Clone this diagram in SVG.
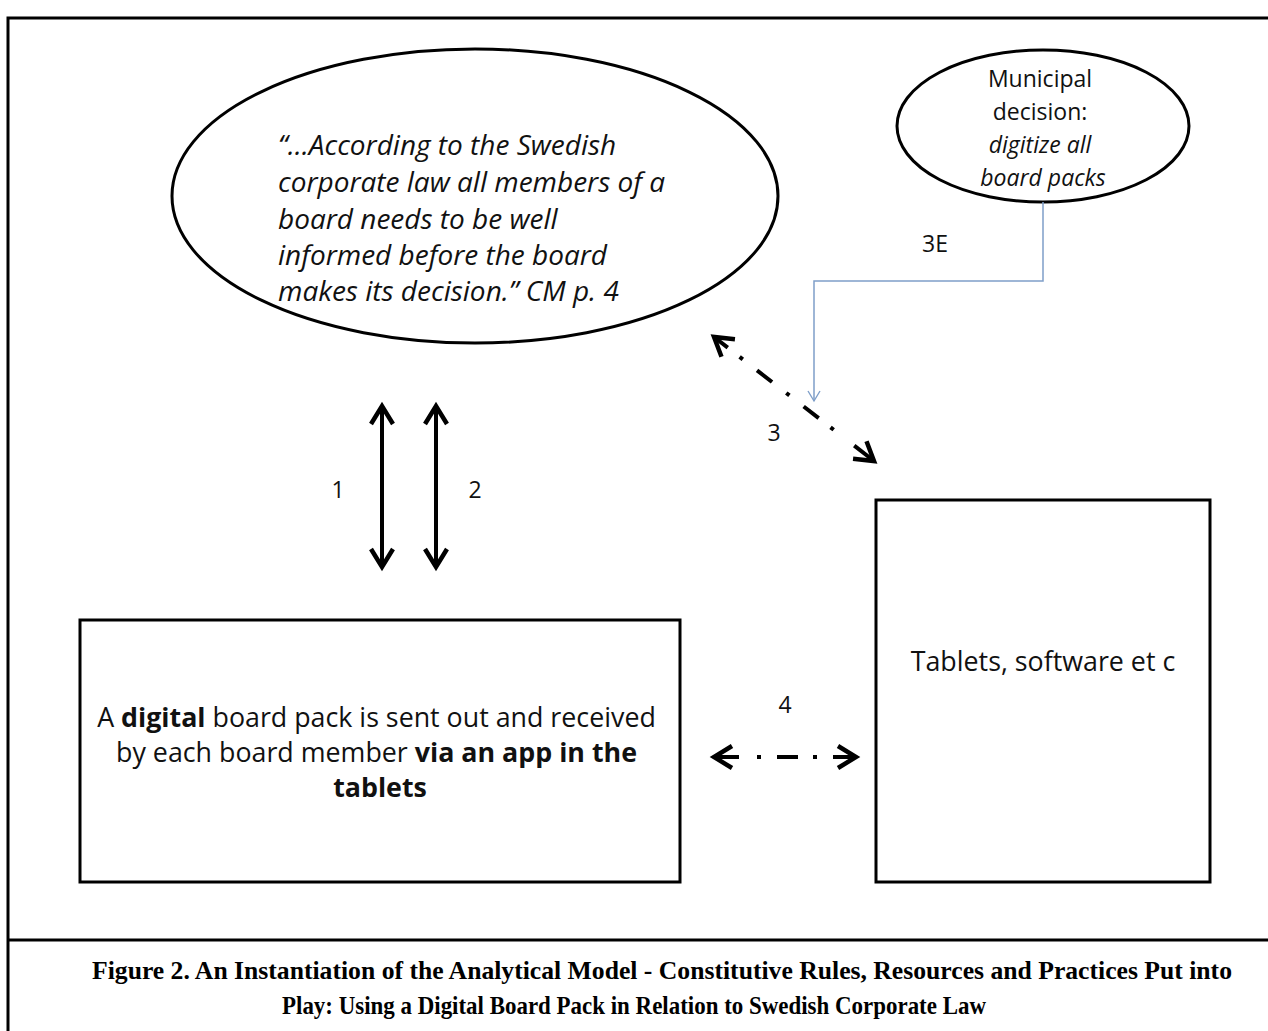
<svg xmlns="http://www.w3.org/2000/svg" width="1268" height="1031" viewBox="0 0 1268 1031">
<style>
.frame{fill:none;stroke:#000;stroke-width:3}
.node{fill:#fff;stroke:#000;stroke-width:3}
.t{font-family:"Open Sans","Noto Sans","Liberation Sans",sans-serif;fill:#111}
.it{font-style:italic}
.b{font-weight:bold}
.arr{fill:none;stroke:#000;stroke-width:4}
.cap{font-family:"Liberation Serif","Times New Roman",serif;font-weight:bold;font-size:25px;fill:#000}
</style>
<defs>
<marker id="ah" viewBox="0 0 28 28" refX="23" refY="14" markerWidth="28" markerHeight="28" orient="auto-start-reverse" markerUnits="userSpaceOnUse">
<path d="M5,3 L23,14 L5,25" fill="none" stroke="#000" stroke-width="4.5"/>
</marker>
<marker id="bh" viewBox="0 0 14 14" refX="12" refY="7" markerWidth="14" markerHeight="14" orient="auto" markerUnits="userSpaceOnUse">
<path d="M2,1 L12,7 L2,13" fill="none" stroke="#7f9fc9" stroke-width="1.4"/>
</marker>
</defs>
<rect width="1268" height="1031" fill="#fff"/>
<g id="frame">
<path class="frame" d="M8,1031 L8,18 L1268,18"/>
<path class="frame" d="M8,940 L1268,940"/>
</g>
<g id="quote">
<ellipse class="node" cx="475" cy="196" rx="303" ry="147"/>
<text class="t it" font-size="28">
<tspan x="278" y="155">“...According to the Swedish</tspan>
<tspan x="278" y="192">corporate law all members of a</tspan>
<tspan x="278" y="229">board needs to be well</tspan>
<tspan x="278" y="265">informed before the board</tspan>
<tspan x="278" y="301">makes its decision.” CM p. 4</tspan>
</text>
</g>
<g id="municipal">
<ellipse class="node" cx="1043" cy="126" rx="146" ry="76"/>
<text class="t" font-size="23" text-anchor="middle">
<tspan x="1043" y="87">Municipal</tspan>
<tspan x="1043" y="120">decision:</tspan>
<tspan x="1043" y="153" class="it">digitize all</tspan>
<tspan x="1043" y="186" class="it">board packs</tspan>
</text>
</g>
<g id="boardpack">
<rect class="node" x="80" y="620" width="600" height="262"/>
<text class="t" font-size="26.8" text-anchor="middle">
<tspan x="380" y="727">A <tspan class="b">digital</tspan> board pack is sent out and received</tspan>
<tspan x="380" y="762">by each board member <tspan class="b">via an app in the</tspan></tspan>
<tspan x="380" y="797" class="b">tablets</tspan>
</text>
</g>
<g id="tablets">
<rect class="node" x="876" y="500" width="334" height="382"/>
<text class="t" font-size="26.8" text-anchor="middle" x="1043" y="671">Tablets, software et c</text>
</g>
<g id="connectors">
<line class="arr" x1="382" y1="406" x2="382" y2="567" marker-start="url(#ah)" marker-end="url(#ah)"/>
<line class="arr" x1="436" y1="406" x2="436" y2="567" marker-start="url(#ah)" marker-end="url(#ah)"/>
<line class="arr" x1="874" y1="461" x2="714" y2="337" stroke-dasharray="25 26 4 15 19 18 4 18 19 18 4 15 20" marker-start="url(#ah)" marker-end="url(#ah)"/>
<line class="arr" x1="714" y1="757" x2="856" y2="757" stroke-dasharray="25 18 4 16 21 15 4 16 25" marker-start="url(#ah)" marker-end="url(#ah)"/>
<path d="M1043,202 L1043,281 L814,281 L814,401" fill="none" stroke="#7f9fc9" stroke-width="1.5" marker-end="url(#bh)"/>
</g>
<g id="labels" class="t" font-size="23" text-anchor="middle">
<text x="338" y="498">1</text>
<text x="475" y="498">2</text>
<text x="774" y="441">3</text>
<text x="935" y="252">3E</text>
<text x="785" y="713">4</text>
</g>
<g id="caption">
<text class="cap" x="662" y="979" text-anchor="middle" textLength="1140" lengthAdjust="spacingAndGlyphs">Figure 2. An Instantiation of the Analytical Model - Constitutive Rules, Resources and Practices Put into</text>
<text class="cap" x="634" y="1014" text-anchor="middle" textLength="704" lengthAdjust="spacingAndGlyphs">Play: Using a Digital Board Pack in Relation to Swedish Corporate Law</text>
</g>
</svg>
